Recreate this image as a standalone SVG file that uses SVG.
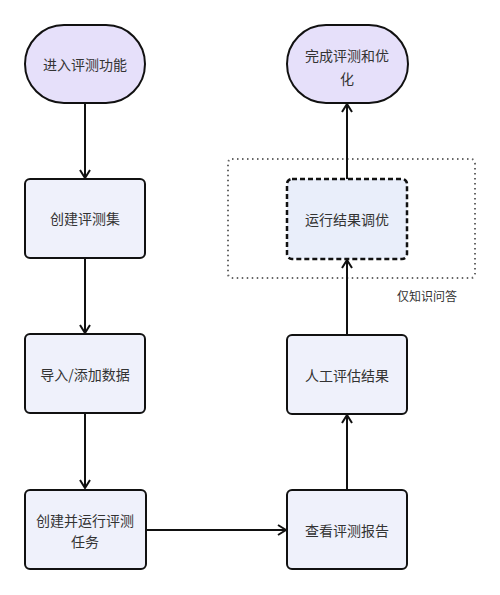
<svg xmlns="http://www.w3.org/2000/svg" width="500" height="595" viewBox="0 0 500 595">
<defs>
<style>
text{font-family:"Noto Sans CJK SC","Liberation Sans",sans-serif;font-size:14px;fill:#333;text-anchor:middle;dominant-baseline:central}
.term{fill:#e6e0fa;stroke:#111;stroke-width:2}
.box{fill:#eff1fb;stroke:#111;stroke-width:2}
.dbox{fill:#e9eefa;stroke:#111;stroke-width:2.5;stroke-dasharray:5 3}
.grp{fill:none;stroke:#666;stroke-width:2;stroke-dasharray:1.5 3.5}
.edge{fill:none;stroke:#111;stroke-width:2;marker-end:url(#arr)}
</style>
<marker id="arr" viewBox="0 0 12 12" refX="11" refY="6" markerWidth="12" markerHeight="12" markerUnits="userSpaceOnUse" orient="auto">
<path d="M3,1 L11,6 L3,11" fill="none" stroke="#111" stroke-width="2"/>
</marker>
</defs>
<rect width="500" height="595" fill="#fff"/>
<g id="group-qa">
<rect class="grp" x="228" y="159" width="247" height="119" rx="4"/>
<text x="427" y="295" style="font-size:12px">仅知识问答</text>
</g>
<g id="connectors">
<line class="edge" x1="85" y1="103" x2="85" y2="178"/>
<line class="edge" x1="85" y1="258" x2="85" y2="333"/>
<line class="edge" x1="85" y1="413" x2="85" y2="488"/>
<line class="edge" x1="146" y1="530" x2="286" y2="530"/>
<line class="edge" x1="347" y1="490" x2="347" y2="415"/>
<line class="edge" x1="347" y1="335" x2="347" y2="260"/>
<line class="edge" x1="347" y1="179" x2="347" y2="104"/>
</g>
<g id="start">
<rect class="term" x="25" y="25" width="120" height="78" rx="39"/>
<text x="85" y="64">进入评测功能</text>
</g>
<g id="create-set">
<rect class="box" x="25" y="179" width="120" height="79" rx="5"/>
<text x="85" y="218">创建评测集</text>
</g>
<g id="import">
<rect class="box" x="25" y="334" width="120" height="79" rx="5"/>
<text x="85" y="374">导入/添加数据</text>
</g>
<g id="create-run">
<rect class="box" x="25" y="490" width="121" height="79" rx="5"/>
<text x="85" y="520">创建并运行评测</text>
<text x="85" y="541">任务</text>
</g>
<g id="view-report">
<rect class="box" x="287" y="490" width="120" height="79" rx="5"/>
<text x="347" y="530">查看评测报告</text>
</g>
<g id="manual-eval">
<rect class="box" x="287" y="335" width="120" height="79" rx="5"/>
<text x="347" y="375">人工评估结果</text>
</g>
<g id="tune">
<rect class="dbox" x="287" y="179" width="120" height="80" rx="5"/>
<text x="347" y="219">运行结果调优</text>
</g>
<g id="end">
<rect class="term" x="287" y="25" width="121" height="78" rx="39"/>
<text x="347" y="55">完成评测和优</text>
<text x="347" y="78">化</text>
</g>
</svg>
